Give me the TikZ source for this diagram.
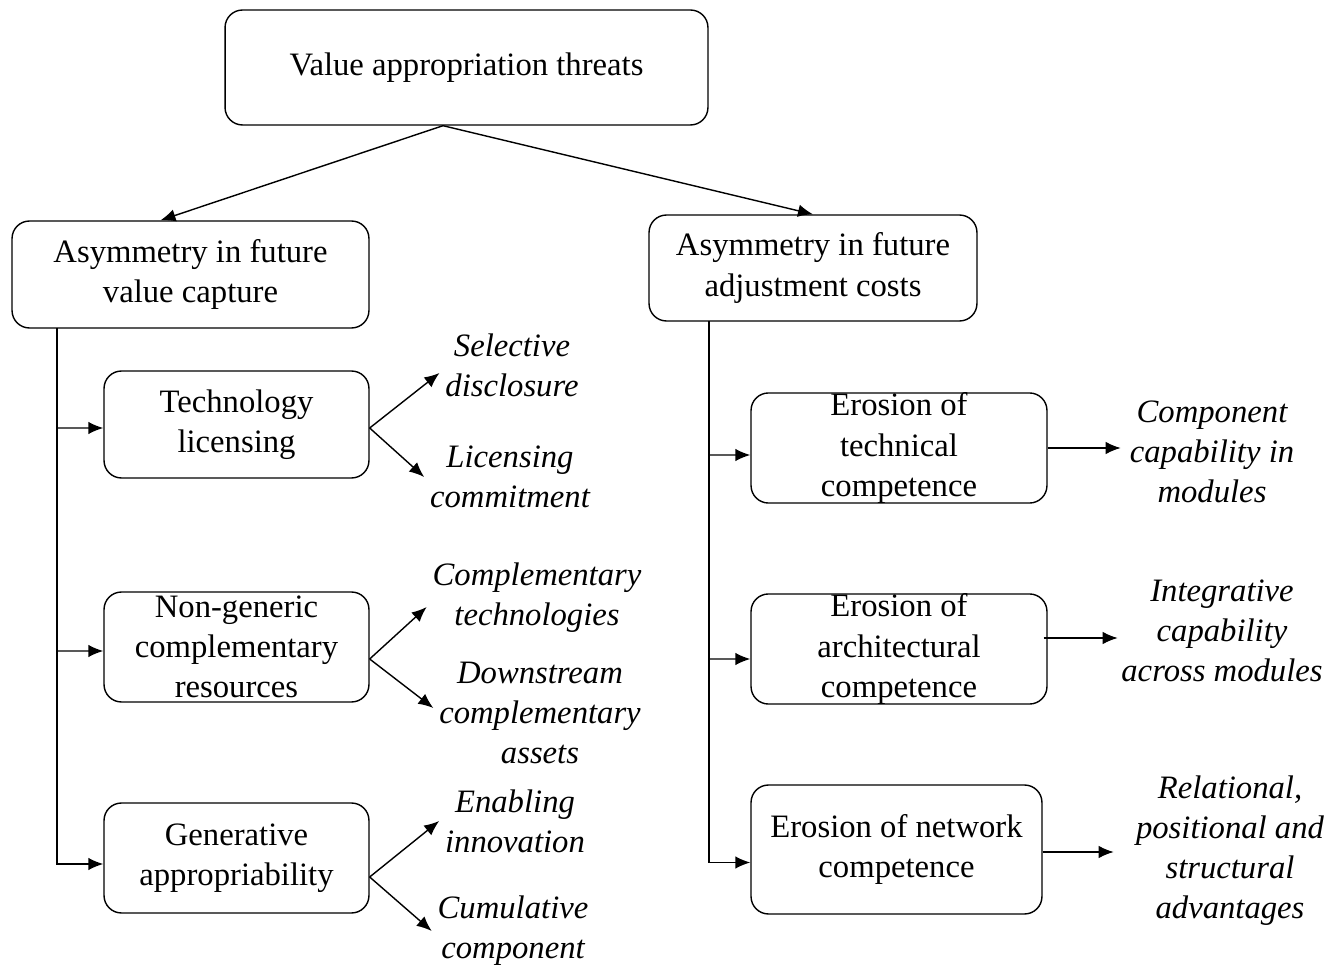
\documentclass[tikz,border=0pt]{standalone}
\usepackage{fontspec}
\setmainfont{Liberation Serif}
\usetikzlibrary{arrows.meta,positioning}

\newcommand{\diagfont}{\fontsize{18.6}{22.8}\selectfont}

\tikzset{
	box/.style={draw,rounded corners=0.35cm,align=center,inner sep=0pt,line width=0.8pt,font=\diagfont},
	lbl/.style={align=center,inner sep=3pt,font=\diagfont\itshape},
	>={Latex[length=0.3cm,width=0.25cm]}
}

\begin{document}
\begin{tikzpicture}[x=0.02cm,y=-0.02cm,line width=0.8pt]
		\useasboundingbox (0,0) rectangle (1343,969);
		
		% top and second level
		\node[box,minimum width=9.66cm,minimum height=2.3cm] (vat) at (466.5,67.5) {Value appropriation threats};
		\node[box,minimum width=7.14cm,minimum height=2.14cm] (va) at (190.5,274.5) {Asymmetry in future\\value capture};
		\node[box,minimum width=6.56cm,minimum height=2.12cm] (vb) at (813,268) {Asymmetry in future\\adjustment costs};
		
		\draw[->] ([xshift=-0.47cm]vat.south) -- ([xshift=-0.6cm]va.north);
		\draw[->] ([xshift=-0.47cm]vat.south) -- (vb.north);
		
		% left branch
		\node[box,minimum width=5.3cm,minimum height=2.14cm] (tl) at (236.5,424.5) {Technology\\licensing};
		\node[box,minimum width=5.3cm,minimum height=2.2cm] (ng) at (236.5,647) {Non-generic\\complementary\\resources};
		\node[box,minimum width=5.3cm,minimum height=2.2cm] (ga) at (236.5,858) {Generative\\appropriability};
		
		\coordinate (lt) at (57,328);
		\draw[->] (lt) |- ([yshift=-0.12cm]ga.west);
		\draw[->] (lt |- tl.west) ++(0,3.5) -- ([yshift=-0.07cm]tl.west);
		\draw[->] (lt |- ng.west) ++(0,4) -- ([yshift=-0.08cm]ng.west);
		
		\node[lbl] (sd) at (512,365) {Selective\\disclosure};
		\node[lbl] (lc) at (510,477) {Licensing\\commitment};
		\node[lbl] (ct) at (537,598) {Complementary\\technologies};
		\node[lbl] (dca) at (540,713) {Downstream\\complementary\\assets};
		\node[lbl] (ei) at (515,821) {Enabling\\innovation};
		\node[lbl] (cc) at (513,931) {Cumulative\\component};
		
		\draw[->] ([yshift=-0.07cm]tl.east) -- ([yshift=-0.16cm]sd.west);
		\draw[->] ([yshift=-0.07cm]tl.east) -- (lc.west);
		\draw[->] ([yshift=-0.24cm]ng.east) -- ([yshift=-0.18cm]ct.west);
		\draw[->] ([yshift=-0.24cm]ng.east) -- ([yshift=0.1cm]dca.west);
		\draw[->] ([yshift=-0.38cm]ga.east) -- (ei.west);
		\draw[->] ([yshift=-0.38cm]ga.east) -- (cc.west);
		
		% right branch
		\node[box,minimum width=5.92cm,minimum height=2.2cm] (et) at (899,448) {Erosion of\\technical\\competence};
		\node[box,minimum width=5.92cm,minimum height=2.2cm] (ea) at (899,649) {Erosion of\\architectural\\competence};
		\node[box,minimum width=5.82cm,minimum height=2.58cm] (en) at (896.5,849.5) {Erosion of network\\competence};
		
		\coordinate (rt) at (709,321);
		\draw[->] (rt) |- ([yshift=-0.26cm]en.west);
		\draw[->] (rt |- et.west) ++(0,7) -- ([yshift=-0.14cm]et.west);
		\draw[->] (rt |- ea.west) ++(0,10) -- ([yshift=-0.2cm]ea.west);
		
		\node[lbl] (ccm) at (1212,452) {Component\\capability in\\modules};
		\node[lbl] (icm) at (1222,631) {Integrative\\capability\\across modules};
		\node[lbl] (rps) at (1230,851) {Relational,\\positional and\\structural\\advantages};
		
		\draw[->] (et.east) -- ++(73,0);
		\draw[->] ([xshift=-0.08cm,yshift=0.22cm]ea.east) -- ++(74,0);
		\draw[->] ([yshift=-0.05cm]en.east) -- ++(71,0);
\end{tikzpicture}
\end{document}
